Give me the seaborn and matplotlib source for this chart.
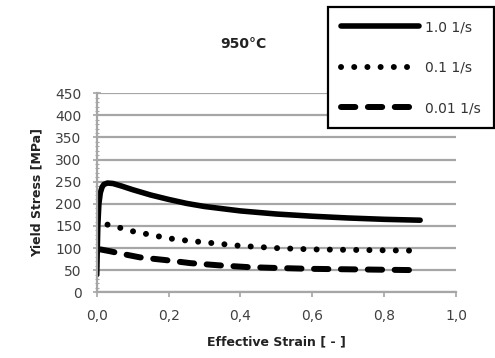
import matplotlib
matplotlib.use("Agg")
import matplotlib.pyplot as plt
import seaborn as sns
import pandas as pd
from matplotlib.ticker import MultipleLocator

sns.set_theme(style="white")
plt.rcParams['font.family'] = ['DejaVu Sans']

# Data
strain_hi = [0.0, 0.003, 0.006, 0.01, 0.015, 0.02, 0.03, 0.045, 0.07, 0.1, 0.15, 0.2, 0.25,
             0.3, 0.4, 0.5, 0.6, 0.7, 0.8, 0.9]
stress_hi = [40, 150, 200, 225, 238, 244, 247, 246, 240, 232, 220, 210, 201,
             194, 184, 177, 172, 168, 165, 163]

strain_mid = [0.03, 0.05, 0.075, 0.1, 0.15, 0.2, 0.25, 0.3, 0.4, 0.5, 0.6, 0.7, 0.8, 0.9]
stress_mid = [153, 150, 143, 138, 130, 122, 117, 113, 105, 100, 97, 96, 95, 94]

strain_lo = [0.01, 0.036, 0.07, 0.12, 0.19, 0.26, 0.34, 0.42, 0.5, 0.6, 0.7, 0.8, 0.9]
stress_lo = [97, 93, 87, 79, 73, 66, 61, 57, 55, 53, 52, 51, 50]

series_labels = ["1.0 1/s", "0.1 1/s", "0.01 1/s"]
x_ticks = [0.0, 0.2, 0.4, 0.6, 0.8, 1.0]
x_ticklabels = ["0,0", "0,2", "0,4", "0,6", "0,8", "1,0"]
y_ticks = [0, 50, 100, 150, 200, 250, 300, 350, 400, 450]

df_hi = pd.DataFrame({"strain": strain_hi, "stress": stress_hi})
df_mid = pd.DataFrame({"strain": strain_mid, "stress": stress_mid})
df_lo = pd.DataFrame({"strain": strain_lo, "stress": stress_lo})

fig = plt.figure(figsize=(4.95, 3.58), dpi=100)
ax = fig.add_axes([0.1954, 0.1835, 0.726, 0.556])

sns.lineplot(data=df_hi, x="strain", y="stress", ax=ax, color="black", linewidth=4.0,
             solid_capstyle="round", solid_joinstyle="round", label=series_labels[0], legend=False)
sns.lineplot(data=df_mid, x="strain", y="stress", ax=ax, color="black", linewidth=4.3,
             linestyle=(0, (0.01, 2.2)), dash_capstyle="round", label=series_labels[1], legend=False)
sns.lineplot(data=df_lo, x="strain", y="stress", ax=ax, color="black", linewidth=4.3,
             linestyle=(0, (2.4, 2.1)), dash_capstyle="round", label=series_labels[2], legend=False)

ax.set_xlim(0, 1.0)
ax.set_ylim(0, 450)
ax.set_xticks(x_ticks)
ax.set_xticklabels(x_ticklabels)
ax.set_yticks(y_ticks)
ax.yaxis.set_minor_locator(MultipleLocator(10))
ax.grid(axis="y", color="#a6a6a6", linewidth=1.6)
ax.set_axisbelow(True)
for s in ["top", "right"]:
    ax.spines[s].set_visible(False)
for s in ["left", "bottom"]:
    ax.spines[s].set_color("#a6a6a6")
    ax.spines[s].set_linewidth(1.6)
ax.tick_params(axis="x", which="major", direction="out", length=3.5, width=1.2,
               color="#a6a6a6", labelsize=10, labelcolor="#404040", pad=8.5, bottom=True)
ax.tick_params(axis="y", which="major", direction="inout", length=6, width=1.2,
               color="#a6a6a6", labelsize=10, labelcolor="#404040", pad=8, left=True)
ax.tick_params(axis="y", which="minor", direction="inout", length=3, width=0.8,
               color="#a6a6a6", left=True)

ax.set_xlabel("Effective Strain [ - ]", fontsize=9, fontweight="bold", color="#222222", labelpad=9)
ax.set_ylabel("Yield Stress [MPa]", fontsize=9, fontweight="bold", color="#222222", labelpad=8)

fig.text(0.491, 0.878, "950°C", fontsize=10, fontweight="bold", color="#222222",
         ha="center", va="center")

handles, labels = ax.get_legend_handles_labels()
leg = fig.legend(handles, labels, loc="upper right", bbox_to_anchor=(0.998, 0.980),
                 frameon=True, fancybox=False, handlelength=5.6, handletextpad=0.45,
                 labelspacing=1.9, borderpad=0.95, fontsize=10, framealpha=1,
                 borderaxespad=0, labelcolor="#333333")
leg.get_frame().set_edgecolor("black")
leg.get_frame().set_linewidth(1.6)

fig.savefig("out.png", dpi=100)
